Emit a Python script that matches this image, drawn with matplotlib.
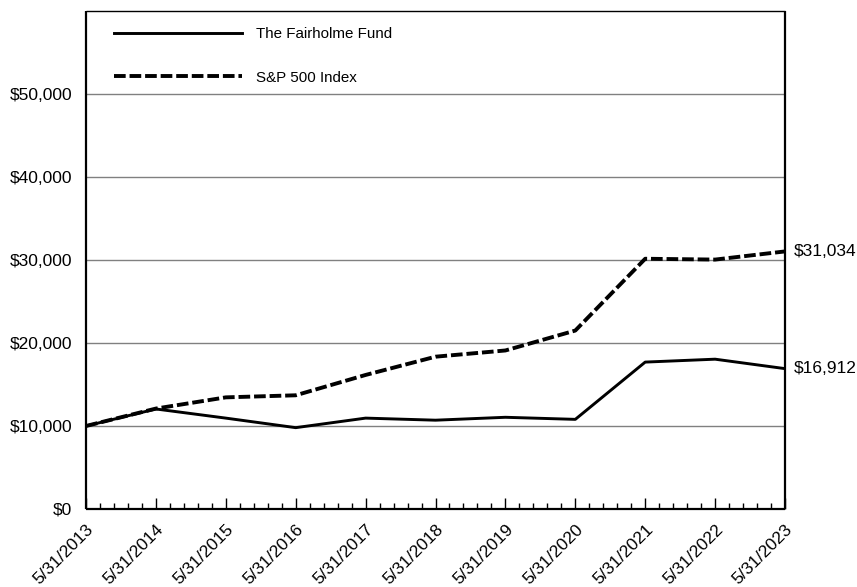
import numpy as np
import matplotlib.pyplot as plt
from matplotlib.ticker import FuncFormatter, MultipleLocator

plt.rcParams['font.family'] = ['Liberation Sans', 'DejaVu Sans']

# Data
dates = ["5/31/2013", "5/31/2014", "5/31/2015", "5/31/2016", "5/31/2017", "5/31/2018",
         "5/31/2019", "5/31/2020", "5/31/2021", "5/31/2022", "5/31/2023"]
fund = [10000, 12050, 10950, 9800, 10950, 10700, 11050, 10800, 17700, 18050, 16912]
sp500 = [10000, 12100, 13450, 13700, 16150, 18350, 19100, 21500, 30150, 30050, 31034]

x = np.arange(len(dates))

fig = plt.figure(figsize=(8.57, 5.87), dpi=100)
ax = fig.add_axes([86/857, 1-509/587, (785-86)/857, (509-11)/587])

ax.plot(x, fund, color='black', lw=2.1, label='The Fairholme Fund', zorder=3)
ax.plot(x, sp500, color='black', lw=2.8, dashes=(3.0, 1.0), label='S&P 500 Index', zorder=3)

ax.set_xlim(x.min(), x.max())
ax.set_ylim(0, 60000)
ax.set_yticks(np.arange(0, 60000, 10000))
ax.yaxis.set_major_formatter(FuncFormatter(lambda v, p: f"${v:,.0f}"))
ax.tick_params(axis='y', length=0, labelsize=12.5, pad=10)
ax.grid(axis='y', color='#808080', lw=1.0)
ax.set_axisbelow(True)

ax.set_xticks(x)
ax.set_xticklabels(dates, rotation=45, ha='right', rotation_mode='anchor', fontsize=12.5)
ax.xaxis.set_minor_locator(MultipleLocator(0.2))
ax.tick_params(axis='x', which='major', direction='in', length=8, width=1, pad=9)
ax.tick_params(axis='x', which='minor', direction='in', length=4.5, width=1)

for s in ax.spines.values():
    s.set_linewidth(1.6)
    s.set_capstyle('butt')
ax.spines['top'].set_linewidth(1.0)

ax.annotate(f"${sp500[-1]:,}", (x[-1], sp500[-1]), xytext=(6, 0), textcoords='offset points',
            fontsize=12.5, va='center', ha='left', annotation_clip=False)
ax.annotate(f"${fund[-1]:,}", (x[-1], fund[-1]), xytext=(6, 0), textcoords='offset points',
            fontsize=12.5, va='center', ha='left', annotation_clip=False)

ax.legend(loc='upper left', bbox_to_anchor=(0.02, 0.995), frameon=False, fontsize=10.9,
          handlelength=8.5, labelspacing=1.95, handletextpad=0.9)

fig.savefig('out.png', dpi=100)
